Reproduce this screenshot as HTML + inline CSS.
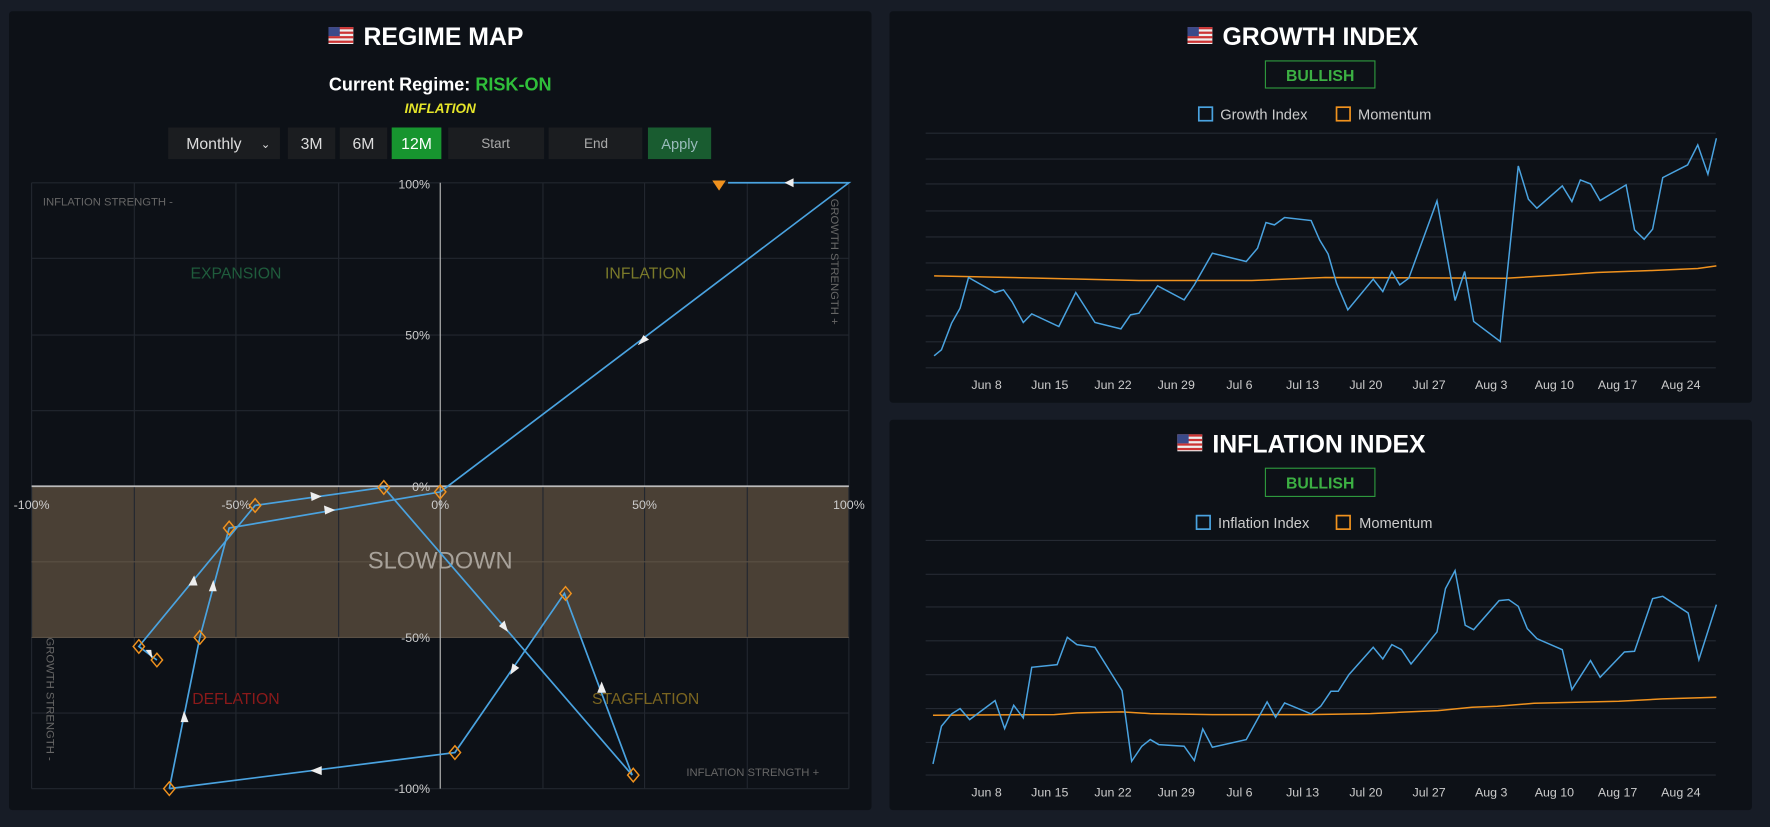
<!DOCTYPE html>
<html><head><meta charset="utf-8"><style>
html,body{margin:0;padding:0;background:#171c26;}
svg{display:block;font-family:"Liberation Sans",sans-serif;}
</style></head><body>
<svg width="1770" height="827" viewBox="0 0 1568 733" preserveAspectRatio="none" xmlns="http://www.w3.org/2000/svg">
<defs>
<g id="flag">
<rect x="0" y="0" width="22" height="15" fill="#eee"/>
<rect x="0" y="0" width="22" height="2" fill="#c33"/><rect x="0" y="4" width="22" height="2" fill="#c33"/><rect x="0" y="8" width="22" height="2" fill="#c33"/><rect x="0" y="12" width="22" height="2" fill="#c33"/>
<rect x="0" y="0" width="10" height="8" fill="#3a4a8a"/>
</g>
</defs>
<rect width="1568" height="733" fill="#171c26"/>
<rect x="8" y="10" width="764" height="708" fill="#0d1117" rx="3"/>
<rect x="788" y="10" width="764" height="347" fill="#0d1117" rx="3"/>
<rect x="788" y="372" width="764" height="346" fill="#0d1117" rx="3"/>

<use href="#flag" x="291" y="24"/>
<text x="322" y="40" font-size="22" font-weight="bold" fill="#fff">REGIME MAP</text>
<text x="390" y="80" font-size="16" font-weight="bold" fill="#fff" text-anchor="middle">Current Regime: <tspan fill="#2fbf3a">RISK-ON</tspan></text>
<text x="390" y="100" font-size="12" font-style="italic" font-weight="bold" fill="#e5e52a" text-anchor="middle">INFLATION</text>
<rect x="149" y="113" width="99" height="28" fill="#1b1d20"/>
<text x="165" y="132" font-size="14" fill="#ddd">Monthly</text>
<text x="231" y="131" font-size="10" fill="#ddd">⌄</text>
<rect x="255" y="113" width="42" height="28" fill="#1b1d20"/>
<text x="276" y="132" font-size="14" fill="#ddd" text-anchor="middle">3M</text>
<rect x="301" y="113" width="42" height="28" fill="#1b1d20"/>
<text x="322" y="132" font-size="14" fill="#ddd" text-anchor="middle">6M</text>
<rect x="347" y="113" width="44" height="28" fill="#17952f"/>
<text x="369" y="132" font-size="14" fill="#fff" text-anchor="middle">12M</text>
<rect x="397" y="113" width="85" height="28" fill="#1b1d20"/>
<text x="439" y="131" font-size="12" fill="#aaa" text-anchor="middle">Start</text>
<rect x="486" y="113" width="83" height="28" fill="#1b1d20"/>
<text x="528" y="131" font-size="12" fill="#aaa" text-anchor="middle">End</text>
<rect x="574" y="113" width="56" height="28" fill="#195c30"/>
<text x="602" y="132" font-size="13" fill="#9bb" text-anchor="middle">Apply</text>

<rect x="28" y="431" width="724" height="134" fill="#4a4035"/>
<g stroke="#22272f" stroke-width="1">
<line x1="119" y1="162" x2="119" y2="699"/><line x1="209" y1="162" x2="209" y2="699"/><line x1="300" y1="162" x2="300" y2="699"/>
<line x1="481" y1="162" x2="481" y2="699"/><line x1="571" y1="162" x2="571" y2="699"/><line x1="662" y1="162" x2="662" y2="699"/>
<line x1="28" y1="162" x2="752" y2="162"/><line x1="28" y1="229" x2="752" y2="229"/><line x1="28" y1="297" x2="752" y2="297"/>
<line x1="28" y1="364" x2="752" y2="364"/><line x1="28" y1="632" x2="752" y2="632"/><line x1="28" y1="699" x2="752" y2="699"/>
<line x1="28" y1="162" x2="28" y2="699"/><line x1="752" y1="162" x2="752" y2="699"/>
</g>
<g stroke="#5a5045" stroke-width="1"><line x1="28" y1="498" x2="752" y2="498"/><line x1="28" y1="565" x2="752" y2="565"/></g>
<line x1="390" y1="162" x2="390" y2="699" stroke="#bbb" stroke-width="1"/>
<line x1="28" y1="431" x2="752" y2="431" stroke="#bbb" stroke-width="1.5"/>
<g font-size="11" fill="#ccc">
<text x="381" y="167" text-anchor="end">100%</text>
<text x="381" y="301" text-anchor="end">50%</text>
<text x="381" y="435" text-anchor="end">0%</text>
<text x="381" y="569" text-anchor="end">-50%</text>
<text x="381" y="703" text-anchor="end">-100%</text>
<text x="28" y="451" text-anchor="middle">-100%</text>
<text x="209" y="451" text-anchor="middle">-50%</text>
<text x="390" y="451" text-anchor="middle">0%</text>
<text x="571" y="451" text-anchor="middle">50%</text>
<text x="752" y="451" text-anchor="middle">100%</text>
</g>
<g font-size="10" fill="#666">
<text x="38" y="182">INFLATION STRENGTH -</text>
<text x="608" y="688">INFLATION STRENGTH +</text>
<text transform="translate(736,176) rotate(90)">GROWTH STRENGTH +</text>
<text transform="translate(41,565) rotate(90)">GROWTH STRENGTH -</text>
</g>
<g font-size="14" text-anchor="middle">
<text x="209" y="247" fill="#1f5c3c">EXPANSION</text>
<text x="572" y="247" fill="#7a7a2a">INFLATION</text>
<text x="209" y="624" fill="#8b1a1a">DEFLATION</text>
<text x="572" y="624" fill="#7a6520">STAGFLATION</text>
<text x="390" y="504" font-size="21" fill="#a8a29a">SLOWDOWN</text>
</g>
<g stroke="#4aa3e0" stroke-width="1.5" fill="none">
<polyline points="150,699 177,565 203,468 390,436"/>
<polyline points="139,585 123,573 226,448 340,432 560,687 500,526 403,667 150,699"/>
<polyline points="390,436 752,162 645,162"/>
</g>
<g fill="#eee">
<polygon points="163,630 160,640 167,640"/>
<polygon points="189,514 185,524 192,524"/>
<polygon points="297,452 287,448 288,456"/>
<polygon points="172,510 167,519 175,519"/>
<polygon points="285,440 275,436 276,444"/>
<polygon points="450,560 442,555 447,550"/>
<polygon points="533,604 529,614 537,614"/>
<polygon points="452,598 454,588 460,592"/>
<polygon points="275,683 285,679 285,687"/>
<polygon points="565,306 570,297 575,301"/>
<polygon points="695,162 703,158 703,166"/>
<polygon points="135,584 129,576 134,576"/>
</g>
<g fill="none" stroke="#f0921e" stroke-width="1.3">
<polygon points="150,693 155,699 150,705 145,699"/>
<polygon points="177,559 182,565 177,571 172,565"/>
<polygon points="203,462 208,468 203,474 198,468"/>
<polygon points="226,442 231,448 226,454 221,448"/>
<polygon points="340,426 345,432 340,438 335,432"/>
<polygon points="390,430 395,436 390,442 385,436"/>
<polygon points="123,567 128,573 123,579 118,573"/>
<polygon points="139,579 144,585 139,591 134,585"/>
<polygon points="403,661 408,667 403,673 398,667"/>
<polygon points="501,520 506,526 501,532 496,526"/>
<polygon points="561,681 566,687 561,693 556,687"/>
</g>
<polygon points="631,160 643,160 637,169" fill="#f0921e"/>

<use href="#flag" x="1052" y="24"/>
<text x="1083" y="40" font-size="22" font-weight="bold" fill="#fff">GROWTH INDEX</text>
<rect x="1121" y="54" width="97" height="24" fill="none" stroke="#2e9a3e"/>
<text x="1169.5" y="72" font-size="14" font-weight="bold" fill="#3cb043" text-anchor="middle">BULLISH</text>
<rect x="1062" y="95" width="12" height="12" fill="none" stroke="#4aa3e0" stroke-width="1.5"/>
<text x="1081" y="106" font-size="13" fill="#ccc">Growth Index</text>
<rect x="1184" y="95" width="12" height="12" fill="none" stroke="#f0921e" stroke-width="1.5"/>
<text x="1203" y="106" font-size="13" fill="#ccc">Momentum</text>
<g stroke="#252a33" stroke-width="1">
<line x1="820" y1="118" x2="1520" y2="118"/><line x1="820" y1="141" x2="1520" y2="141"/><line x1="820" y1="163" x2="1520" y2="163"/><line x1="820" y1="187" x2="1520" y2="187"/><line x1="820" y1="210" x2="1520" y2="210"/><line x1="820" y1="233" x2="1520" y2="233"/><line x1="820" y1="257" x2="1520" y2="257"/><line x1="820" y1="280" x2="1520" y2="280"/><line x1="820" y1="303" x2="1520" y2="303"/><line x1="820" y1="326" x2="1520" y2="326"/>
</g>
<g font-size="11" fill="#ccc" text-anchor="middle">
<text x="874" y="345">Jun 8</text><text x="930" y="345">Jun 15</text><text x="986" y="345">Jun 22</text><text x="1042" y="345">Jun 29</text><text x="1098" y="345">Jul 6</text><text x="1154" y="345">Jul 13</text><text x="1210" y="345">Jul 20</text><text x="1266" y="345">Jul 27</text><text x="1321" y="345">Aug 3</text><text x="1377" y="345">Aug 10</text><text x="1433" y="345">Aug 17</text><text x="1489" y="345">Aug 24</text>
</g>
<g transform="translate(784,0) scale(0.5,0.2953)" fill="none">
<polyline vector-effect="non-scaling-stroke" stroke="#f0921e" stroke-width="1.5" points="87,828 200,832 450,842 650,842 780,833 1100,835 1200,825 1260,818 1360,812 1440,806 1473,798"/>
<polyline vector-effect="non-scaling-stroke" stroke="#4aa3e0" stroke-width="1.5" points="87,1068 100,1050 118,970 133,925 148,833 195,878 210,870 225,905 245,968 260,942 308,980 338,878 372,968 418,987 435,945 450,940 483,858 530,900 548,855 580,760 640,785 660,745 675,668 690,675 708,653 755,662 770,720 785,762 800,850 820,930 865,838 882,875 898,815 912,855 928,835 978,603 1010,902 1027,815 1043,965 1090,1025 1122,498 1140,598 1155,625 1200,558 1217,605 1232,540 1250,552 1267,602 1313,555 1328,690 1345,718 1360,688 1378,533 1422,495 1440,435 1458,523 1473,415"/>
</g>

<use href="#flag" x="1043" y="385"/>
<text x="1074" y="401" font-size="22" font-weight="bold" fill="#fff">INFLATION INDEX</text>
<rect x="1121" y="415" width="97" height="25" fill="none" stroke="#2e9a3e"/>
<text x="1169.5" y="433" font-size="14" font-weight="bold" fill="#3cb043" text-anchor="middle">BULLISH</text>
<rect x="1060" y="457" width="12" height="12" fill="none" stroke="#4aa3e0" stroke-width="1.5"/>
<text x="1079" y="468" font-size="13" fill="#ccc">Inflation Index</text>
<rect x="1184" y="457" width="12" height="12" fill="none" stroke="#f0921e" stroke-width="1.5"/>
<text x="1204" y="468" font-size="13" fill="#ccc">Momentum</text>
<g stroke="#252a33" stroke-width="1">
<line x1="820" y1="479" x2="1520" y2="479"/><line x1="820" y1="509" x2="1520" y2="509"/><line x1="820" y1="538" x2="1520" y2="538"/><line x1="820" y1="568" x2="1520" y2="568"/><line x1="820" y1="598" x2="1520" y2="598"/><line x1="820" y1="628" x2="1520" y2="628"/><line x1="820" y1="658" x2="1520" y2="658"/><line x1="820" y1="687" x2="1520" y2="687"/>
</g>
<g font-size="11" fill="#ccc" text-anchor="middle">
<text x="874" y="706">Jun 8</text><text x="930" y="706">Jun 15</text><text x="986" y="706">Jun 22</text><text x="1042" y="706">Jun 29</text><text x="1098" y="706">Jul 6</text><text x="1154" y="706">Jul 13</text><text x="1210" y="706">Jul 20</text><text x="1266" y="706">Jul 27</text><text x="1321" y="706">Aug 3</text><text x="1377" y="706">Aug 10</text><text x="1433" y="706">Aug 17</text><text x="1489" y="706">Aug 24</text>
</g>
<g transform="translate(784,367.6) scale(0.5,0.2953)" fill="none">
<polyline vector-effect="non-scaling-stroke" stroke="#f0921e" stroke-width="1.5" points="85,902 300,900 340,895 420,892 470,897 580,900 750,900 860,897 980,888 1040,878 1085,875 1150,866 1300,860 1378,853 1473,848"/>
<polyline vector-effect="non-scaling-stroke" stroke="#4aa3e0" stroke-width="1.5" points="85,1048 100,935 118,898 133,882 150,915 195,858 212,942 228,872 245,910 260,758 305,750 323,668 340,690 372,698 420,828 437,1040 455,995 470,975 485,990 530,995 548,1038 563,943 580,998 640,975 677,862 692,908 708,865 755,898 772,875 790,830 803,830 822,780 865,698 882,733 898,690 915,705 932,748 978,652 993,522 1010,468 1028,632 1043,645 1088,558 1105,555 1122,575 1138,642 1155,672 1200,705 1217,825 1250,738 1267,788 1310,712 1328,710 1360,552 1378,545 1423,595 1442,735 1473,570"/>
</g>
</svg>
</body></html>
